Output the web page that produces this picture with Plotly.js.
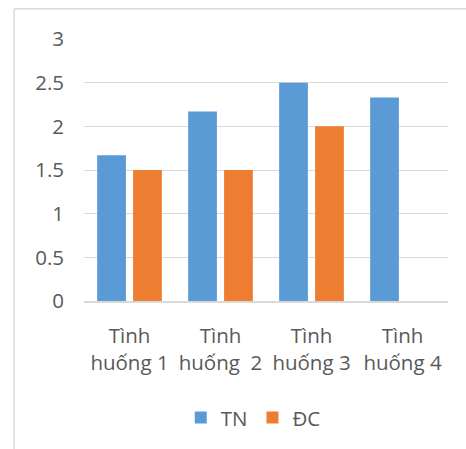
<!DOCTYPE html>
<html>
<head>
<meta charset="utf-8">
<script src="https://cdn.plot.ly/plotly-3.0.1.min.js"></script>
<style>html,body{margin:0;padding:0;background:#fff}#chart{width:466px;height:449px}</style>
</head>
<body>
<div id="chart"></div>
<script>
const categories = ["Tình<br>huống 1", "Tình<br>huống  2", "Tình<br>huống 3", "Tình<br>huống 4"];
const seriesNames = ["TN", "ĐC"];
const tnValues = [1.67, 2.17, 2.5, 2.33];
const dcValues = [1.5, 1.5, 2, null];
const yTicks = [0, 0.5, 1, 1.5, 2, 2.5, 3];
const yTickLabels = ["0", "0.5", "1", "1.5", "2", "2.5", "3"];

const font = {family: "Open Sans, Liberation Sans, sans-serif", size: 20.5, color: "#595959"};

const traces = [
  {type: "bar", name: seriesNames[0], x: categories, y: tnValues,
   marker: {color: "#5b9bd5"}, hoverinfo: "skip"},
  {type: "bar", name: seriesNames[1], x: categories, y: dcValues,
   marker: {color: "#ed7d31"}, hoverinfo: "skip"}
];

const layout = {
  width: 466, height: 449,
  margin: {l: 84, r: 18, t: 39, b: 147},
  paper_bgcolor: "#ffffff", plot_bgcolor: "#ffffff",
  font: font,
  barmode: "group", bargap: 0.21, bargroupgap: 0.2,
  showlegend: true,
  legend: {orientation: "h", x: 0.465, xanchor: "center", y: -0.44, yanchor: "middle",
           font: font, itemwidth: 30, traceorder: "normal", tracegroupgap: 0},
  xaxis: {type: "category", showgrid: false, zeroline: false, showline: true,
          linecolor: "#d9d9d9", linewidth: 1.5, ticks: "", tickfont: font,
          ticklabelstandoff: 16, fixedrange: true},
  yaxis: {range: [0, 3], tickvals: yTicks, ticktext: yTickLabels, showgrid: true,
          gridcolor: "#d9d9d9", gridwidth: 1, zeroline: false, showline: false,
          ticks: "", tickfont: font, ticklabelstandoff: 19, fixedrange: true},
  shapes: [
    {type: "line", xref: "paper", yref: "paper", x0: -0.192, x1: 1.2, y0: 1.115, y1: 1.115,
     line: {color: "#d9d9d9", width: 1.5}},
    {type: "line", xref: "paper", yref: "paper", x0: -0.192, x1: -0.192, y0: 1.115, y1: -0.6,
     line: {color: "#d9d9d9", width: 1.5}}
  ]
};

Plotly.newPlot("chart", traces, layout, {displayModeBar: false, staticPlot: true});
</script>
</body>
</html>
